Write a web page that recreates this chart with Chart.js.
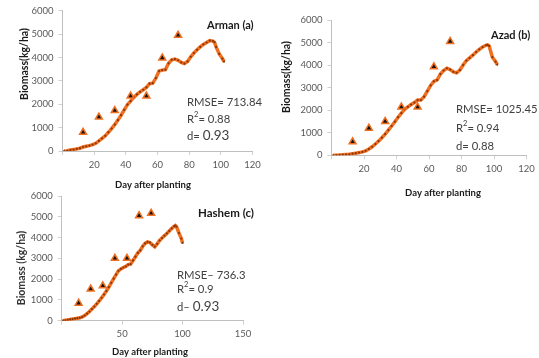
<!DOCTYPE html>
<html>
<head>
<meta charset="utf-8">
<script src="https://cdn.jsdelivr.net/npm/chart.js@4.4.1/dist/chart.umd.min.js"></script>
<style>
  html, body { margin: 0; padding: 0; background: #fff; }
  #wrap { position: relative; width: 539px; height: 358px; overflow: hidden; }
  #wrap canvas { position: absolute; left: 0; top: 0; }
</style>
</head>
<body>
<div id="wrap">
  <canvas id="cA" width="539" height="358"></canvas>
  <canvas id="cB" width="539" height="358"></canvas>
  <canvas id="cC" width="539" height="358"></canvas>
</div>
<script>
// observed biomass (triangles), kg/ha
const obsDaysAB = [13, 23, 33, 43, 53, 63, 73];
const obsDaysC = [14, 24, 34, 44, 54, 64, 74];
const obsArman = [800, 1450, 1730, 2350, 2350, 3980, 4950];
const obsAzad = [600, 1200, 1500, 2140, 2140, 3930, 5050];
const obsHashem = [840, 1520, 1680, 3000, 3000, 5050, 5170];

// simulated biomass (orange line), kg/ha
const simDaysAB = [1, 3, 5, 7, 9, 11, 13, 15, 17, 19, 21, 23, 25, 27, 29, 31, 33, 35, 37, 39,
  41, 43, 45, 47, 49, 51, 53, 55, 57, 59, 61, 63, 65, 67, 69, 71, 73, 75, 77, 79,
  81, 83, 85, 87, 89, 91, 93, 95, 96, 97, 99, 101, 102];
const simArman = [0, 10, 40, 60, 90, 120, 170, 200, 230, 270, 330, 430, 540, 650, 800, 960, 1130, 1320, 1530, 1760,
  1980, 2130, 2290, 2420, 2530, 2620, 2720, 2880, 2900, 3120, 3420, 3460, 3480, 3750, 3900, 3930, 3880, 3790, 3740, 3830,
  4030, 4190, 4330, 4450, 4560, 4640, 4720, 4700, 4650, 4450, 4150, 3950, 3820];
const simAzad = [0, 5, 15, 25, 35, 45, 70, 95, 120, 150, 200, 280, 380, 500, 630, 780, 940, 1120, 1300, 1490,
  1690, 1870, 2040, 2150, 2250, 2340, 2450, 2450, 2600, 2850, 3100, 3280, 3340, 3600, 3760, 3860, 3800, 3700, 3660, 3780,
  4000, 4200, 4320, 4440, 4580, 4700, 4800, 4880, 4900, 4850, 4350, 4150, 4020];
const simDaysC = [1, 3, 5, 7, 9, 11, 13, 15, 17, 19, 21, 23, 25, 27, 29, 31, 33, 35, 37, 39,
  41, 43, 45, 47, 49, 51, 53, 55, 57, 59, 61, 63, 65, 67, 69, 71, 73, 75, 77, 79,
  81, 83, 85, 87, 89, 91, 93, 94, 95, 97, 99, 100];
const simHashem = [0, 20, 40, 60, 80, 100, 120, 140, 180, 250, 340, 440, 560, 680, 810, 950, 1100, 1260, 1430, 1620,
  1820, 2020, 2220, 2400, 2490, 2560, 2610, 2700, 2720, 2900, 3080, 3260, 3380, 3580, 3720, 3790, 3760, 3650, 3560, 3700,
  3860, 3980, 4090, 4200, 4320, 4440, 4540, 4580, 4520, 4220, 3950, 3740];

const yTicks = [0, 1000, 2000, 3000, 4000, 5000, 6000];

const ORANGE = '#f07022';
const FONT = 'Lato, "Open Sans", sans-serif';

const pts = (xs, ys) => xs.map((x, i) => ({ x, y: ys[i] }));

// draws free text: panel labels, fit statistics and axis titles
const panelText = {
  id: 'panelText',
  afterDraw(chart, args, opts) {
    const ctx = chart.ctx;
    (opts.items || []).forEach(item => {
      ctx.save();
      ctx.translate(item.x, item.y);
      if (item.rotate) ctx.rotate(item.rotate);
      ctx.textBaseline = 'middle';
      ctx.fillStyle = item.color || '#404040';
      let total = 0;
      item.runs.forEach(r => { ctx.font = r.font; total += ctx.measureText(r.t).width; });
      let x = item.align === 'center' ? -total / 2 : 0;
      item.runs.forEach(r => {
        ctx.font = r.font;
        ctx.fillText(r.t, x, r.dy || 0);
        x += ctx.measureText(r.t).width;
      });
      ctx.restore();
    });
  }
};

const f = (size, weight) => `${weight || 'normal'} ${size}px ${FONT}`;
const stat = (x, y, label, value, big) => ({
  x, y, color: '#404040',
  runs: [{ t: label, font: f(11.3) }, { t: value, font: big ? f(13.5) : f(11.3) }]
});
const r2 = (x, y, value) => ({
  x, y, color: '#404040',
  runs: [{ t: 'R', font: f(11.3) }, { t: '2', font: f(7.5), dy: -4 }, { t: '= ' + value, font: f(11.3) }]
});
const bold = (x, y, t, size, opts) => Object.assign({
  x, y, color: '#1a1a1a', runs: [{ t, font: f(size, 'bold') }]
}, opts || {});

function makeChart(id, cfg) {
  new Chart(document.getElementById(id), {
    type: 'line',
    data: {
      datasets: [{
        label: 'Observed',
        data: pts(cfg.obsX, cfg.obs),
        showLine: false,
        pointStyle: 'triangle',
        pointRadius: 4,
        pointBackgroundColor: '#141414',
        pointBorderColor: ORANGE,
        pointBorderWidth: 1.5,
      }, {
        label: 'Simulated',
        data: pts(cfg.simX, cfg.sim),
        borderColor: ORANGE,
        borderWidth: 3.5,
        pointRadius: 1.1,
        pointBackgroundColor: '#8a3505',
        pointBorderWidth: 0,
        tension: 0,
      }],
    },
    options: {
      responsive: false,
      animation: false,
      events: [],
      layout: { padding: cfg.pad },
      plugins: {
        legend: { display: false },
        tooltip: { enabled: false },
        panelText: { items: cfg.text },
      },
      scales: {
        x: {
          type: 'linear',
          min: 0,
          max: cfg.xMax,
          afterFit: (s) => { s.height = 25; },
          afterBuildTicks: (s) => {
            const t = [];
            for (let v = 0; v <= cfg.xMax; v += cfg.xStep) t.push({ value: v });
            s.ticks = t;
          },
          ticks: {
            autoSkip: false,
            maxRotation: 0,
            padding: 4,
            color: '#595959',
            font: { family: FONT, size: 9.5 },
            callback: (v) => (v === 0 ? '' : String(v)),
          },
          grid: { drawOnChartArea: false, drawTicks: true, tickLength: 4, color: '#d0d0d0' },
          border: { color: '#bfbfbf' },
        },
        y: {
          min: 0,
          max: 6000,
          afterFit: (s) => { s.width = 45; },
          afterBuildTicks: (s) => { s.ticks = yTicks.map(v => ({ value: v })); },
          ticks: {
            autoSkip: false,
            padding: 5,
            color: '#595959',
            font: { family: FONT, size: 9.5 },
            callback: (v) => String(v),
          },
          grid: { drawOnChartArea: false, drawTicks: true, tickLength: 4, color: '#d0d0d0' },
          border: { color: '#bfbfbf' },
        },
      },
    },
    plugins: [panelText],
  });
}

const ROT = -Math.PI / 2;

makeChart('cA', {
  obsX: obsDaysAB, obs: obsArman, simX: simDaysAB, sim: simArman,
  xMax: 120, xStep: 20,
  pad: { left: 17.5, right: 286.5, top: 10, bottom: 182 },
  text: [
    bold(207, 25, 'Arman (a)', 11),
    stat(187, 102, 'RMSE= ', '713.84'),
    r2(187, 119, '0.88'),
    stat(187, 136, 'd= ', '0.93', true),
    bold(153, 185, 'Day after planting', 9.5, { align: 'center' }),
    bold(25, 64, 'Biomass(kg/ha)', 10.5, { align: 'center', rotate: ROT }),
  ],
});

makeChart('cB', {
  obsX: obsDaysAB, obs: obsAzad, simX: simDaysAB, sim: simAzad,
  xMax: 120, xStep: 20,
  pad: { left: 286.5, right: 12.5, top: 20, bottom: 177.7 },
  text: [
    bold(491, 35, 'Azad (b)', 11),
    stat(456, 109, 'RMSE= ', '1025.45'),
    r2(456, 128, '0.94'),
    stat(456, 146, 'd= ', '0.88'),
    bold(443, 193, 'Day after planting', 9.5, { align: 'center' }),
    bold(287, 77, 'Biomass(kg/ha)', 10.5, { align: 'center', rotate: ROT }),
  ],
});

makeChart('cC', {
  obsX: obsDaysC, obs: obsHashem, simX: simDaysC, sim: simHashem,
  xMax: 150, xStep: 50,
  pad: { left: 16.7, right: 296, top: 196, bottom: 12.3 },
  text: [
    bold(198, 213, 'Hashem (c)', 11.5),
    stat(177, 275, 'RMSE\u2013 ', '736.3'),
    r2(177, 289, '0.9'),
    stat(177, 307, 'd\u2013 ', '0.93', true),
    bold(150, 352, 'Day after planting', 9.5, { align: 'center' }),
    bold(22, 268, 'Biomass (kg/ha)', 10.5, { align: 'center', rotate: ROT, color: '#333333' }),
  ],
});
</script>
</body>
</html>
